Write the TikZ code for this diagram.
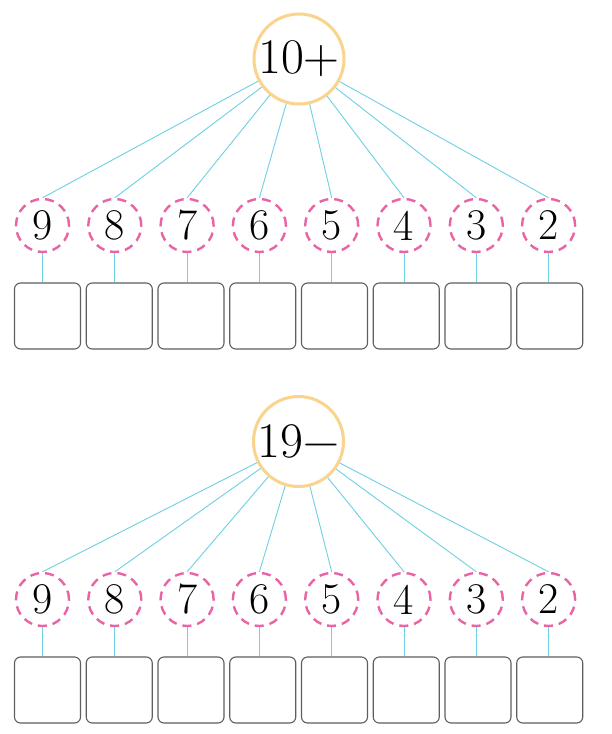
\documentclass[tikz,border=0pt]{standalone}
\usepackage{fontspec}
\definecolor{cyanline}{RGB}{110,208,228}
\definecolor{pinkdash}{RGB}{232,100,165}
\definecolor{goldring}{RGB}{250,212,140}
\definecolor{boxgray}{RGB}{95,95,95}
\tikzset{
  bigcirc/.style={circle, draw=goldring, line width=3bp, minimum size=90bp, inner sep=0pt, fill=white,
    font=\fontsize{50}{50}\selectfont},
  numcirc/.style={circle, draw=pinkdash, line width=2.4bp, dash pattern=on 9bp off 6bp, minimum size=53bp, inner sep=0pt,
    font=\fontsize{44}{44}\selectfont},
  answerbox/.style={draw=boxgray, line width=1.1bp, rounded corners=6bp, minimum width=66bp, minimum height=66bp, inner sep=0pt},
  link/.style={draw=cyanline, line width=0.9bp}
}
\begin{document}
\begin{tikzpicture}[x=1bp,y=-1bp]
\useasboundingbox (0,0) rectangle (612,734);
\fill[white] (0,0) rectangle (612,734);
% top group
\node[bigcirc] (T) at (299,59) {10+};
\foreach \n [count=\i from 0] in {9,8,7,6,5,4,3,2} {
  \node[numcirc] (a\i) at ({42.5+72.3*\i},225.5) {\n};
  \node[answerbox] (b\i) at ({47.5+71.75*\i},316) {};
  \draw[link] (T) -- (a\i.north);
  \draw[link] (a\i.south) -- (a\i.south |- b\i.north);
}
% bottom group
\node[bigcirc] (U) at (298.5,441.5) {19−};
\foreach \n [count=\i from 0] in {9,8,7,6,5,4,3,2} {
  \node[numcirc] (c\i) at ({42.5+72.3*\i},599.5) {\n};
  \node[answerbox] (d\i) at ({47.5+71.75*\i},690) {};
  \draw[link] (U) -- (c\i.north);
  \draw[link] (c\i.south) -- (c\i.south |- d\i.north);
}
\end{tikzpicture}
\end{document}
